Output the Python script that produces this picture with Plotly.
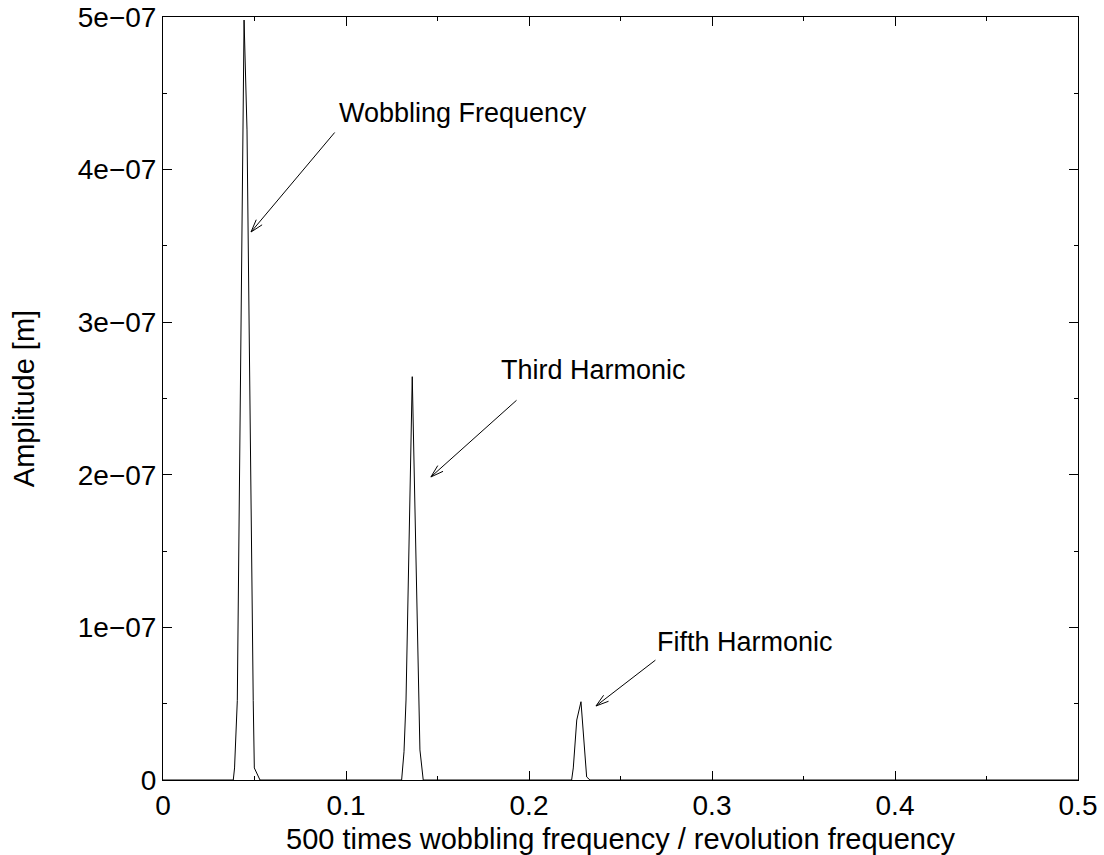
import math
import plotly.graph_objects as go

# Spectrum data
freq = [0.0, 0.0384, 0.0391, 0.0406, 0.0443, 0.0459, 0.0493, 0.0499, 0.0530,
        0.1304, 0.1317, 0.1328, 0.1362, 0.1399, 0.1404, 0.1422,
        0.2233, 0.2242, 0.2261, 0.2284, 0.2315, 0.2333, 0.5]
amp = [0.0, 0.0, 7.9e-9, 5.2e-8, 4.98e-7, 4.26e-7, 5.2e-8, 7.9e-9, 0.0,
       0.0, 1.85e-8, 5.24e-8, 2.643e-7, 5.24e-8, 1.97e-8, 0.0,
       0.0, 7.9e-9, 3.93e-8, 5.13e-8, 2.0e-9, 0.0, 0.0]

labels = ["Wobbling Frequency", "Third Harmonic", "Fifth Harmonic"]
label_x = [0.0951, 0.1836, 0.2689]
label_y = [4.371e-7, 2.687e-7, 9.04e-8]
head_x = [0.0481, 0.1464, 0.2366]
head_y = [3.591e-7, 1.986e-7, 4.85e-8]
tail_x = [0.0945, 0.1940, 0.2699]
tail_y = [4.253e-7, 2.497e-7, 7.93e-8]

x_ticks = [0, 0.1, 0.2, 0.3, 0.4, 0.5]
x_tick_text = ["0", "0.1", "0.2", "0.3", "0.4", "0.5"]
y_ticks = [0, 1e-7, 2e-7, 3e-7, 4e-7, 5e-7]
y_tick_text = ["0", "1e\u221207", "2e\u221207", "3e\u221207", "4e\u221207", "5e\u221207"]

FONT = "Liberation Sans, Arial, sans-serif"
FS_TICK = 28
FS_TITLE = 29
FS_ANN = 27

W, H = 1104, 855
ML, MR, MT, MB = 163, 26, 17, 75
XR = [0, 0.5]
YR = [0, 5e-7]
px_per_x = (W - ML - MR) / (XR[1] - XR[0])
px_per_y = (H - MT - MB) / (YR[1] - YR[0])

fig = go.Figure()
fig.add_trace(go.Scatter(x=freq, y=amp, mode="lines",
                         line=dict(color="black", width=1),
                         showlegend=False, hoverinfo="skip"))

annotations = []
for t, lx, ly in zip(labels, label_x, label_y):
    annotations.append(dict(x=lx, y=ly, xref="x", yref="y", text=t, showarrow=False,
                            xanchor="left", yanchor="middle",
                            font=dict(family=FONT, size=FS_ANN, color="black")))
HEAD_LEN = 15
HEAD_ANG = math.radians(17)
for hx, hy, tx, ty in zip(head_x, head_y, tail_x, tail_y):
    # shaft
    annotations.append(dict(x=hx, y=hy, ax=tx, ay=ty, xref="x", yref="y",
                            axref="x", ayref="y", text="", showarrow=True,
                            arrowhead=0, arrowwidth=1, arrowcolor="black"))
    # open head (two strokes), offsets in screen pixels (y down)
    dx = (tx - hx) * px_per_x
    dy = -(ty - hy) * px_per_y
    base = math.atan2(dy, dx)
    for s in (-1, 1):
        a = base + s * HEAD_ANG
        annotations.append(dict(x=hx, y=hy, xref="x", yref="y",
                                ax=HEAD_LEN * math.cos(a), ay=HEAD_LEN * math.sin(a),
                                text="", showarrow=True, arrowhead=0,
                                arrowwidth=1, arrowcolor="black"))

fig.update_layout(
    width=W, height=H,
    margin=dict(l=ML, r=MR, t=MT, b=MB),
    paper_bgcolor="white", plot_bgcolor="white",
    font=dict(family=FONT, size=FS_TICK, color="black"),
    annotations=annotations,
    xaxis=dict(range=XR, tickvals=x_ticks, ticktext=x_tick_text,
               ticks="inside", ticklen=9, tickcolor="black", tickwidth=1,
               minor=dict(ticks="inside", ticklen=4, dtick=0.05, tickcolor="black", showgrid=False),
               showline=True, linecolor="black", linewidth=1, mirror="ticks",
               showgrid=False, zeroline=False, automargin=False,
               title=dict(text="500 times wobbling frequency / revolution frequency",
                          standoff=12, font=dict(size=FS_TITLE)),
               tickfont=dict(size=FS_TICK)),
    yaxis=dict(range=YR, tickvals=y_ticks, ticktext=y_tick_text,
               ticks="inside", ticklen=9, tickcolor="black", tickwidth=1,
               minor=dict(ticks="inside", ticklen=4, dtick=0.5e-7, tickcolor="black", showgrid=False),
               showline=True, linecolor="black", linewidth=1, mirror="ticks",
               showgrid=False, zeroline=False, automargin=False,
               title=dict(text="Amplitude [m]", standoff=34, font=dict(size=FS_TITLE)),
               tickfont=dict(size=FS_TICK)),
)

fig.write_html("out.html")
